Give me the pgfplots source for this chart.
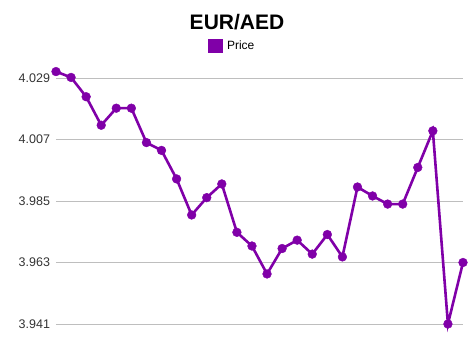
\documentclass[border=0pt]{standalone}
\usepackage{pgfplots}
\pgfplotsset{compat=1.18}
\usepackage{fontspec}
\setmainfont{Liberation Sans}
\definecolor{pline}{RGB}{128,0,168}
\definecolor{gridc}{RGB}{190,190,190}
\begin{document}
\begin{tikzpicture}
\path (-56pt,-31pt) rectangle (418pt,324pt);
\begin{axis}[
  at={(0,0)}, anchor=south west,
  scale only axis, width=407pt, height=246pt,
  xmin=0, xmax=27, ymin=3.941, ymax=4.029,
  axis line style={draw=none},
  clip=false,
  xtick=\empty,
  ytick={3.941,3.963,3.985,4.007,4.029},
  yticklabel style={/pgf/number format/fixed, /pgf/number format/precision=3, /pgf/number format/fixed zerofill, font=\fontsize{12.5}{14}\selectfont, text=black!80},
  /pgf/number format/assume math mode=true,
  ymajorgrids, major grid style={gridc, line width=0.8pt},
  major tick length=0pt,
  yticklabel shift=2.5pt,
  legend style={at={(rel axis cs:0.436,1.13)}, anchor=center, draw=none, fill=none, font=\fontsize{12}{14}\selectfont, inner sep=0pt, nodes={inner xsep=4pt}},
  legend image code/.code={\fill[pline] (0pt,-6pt) rectangle (12pt,6pt);},
  legend cell align=left,
]
\addplot[pline, line width=2.6pt, mark=*, mark size=4.4pt, mark options={solid, fill=pline, draw=pline, line width=0.4pt}] coordinates {
(0,4.0313) (1,4.0292) (2,4.0223) (3,4.0121) (4,4.0182) (5,4.0182) (6,4.0059) (7,4.0031) (8,3.9929) (9,3.9800)
(10,3.9862) (11,3.9911) (12,3.9738) (13,3.9689) (14,3.9589) (15,3.9680) (16,3.9710) (17,3.9660) (18,3.9730) (19,3.9650)
(20,3.9900) (21,3.9868) (22,3.9839) (23,3.9839) (24,3.9970) (25,4.0101) (26,3.9410) (27,3.9630)
};
\addlegendentry{Price}
\end{axis}
\node[font=\bfseries\fontsize{21}{24}\selectfont] at (181pt,302pt) {EUR/AED};
\end{tikzpicture}
\end{document}
